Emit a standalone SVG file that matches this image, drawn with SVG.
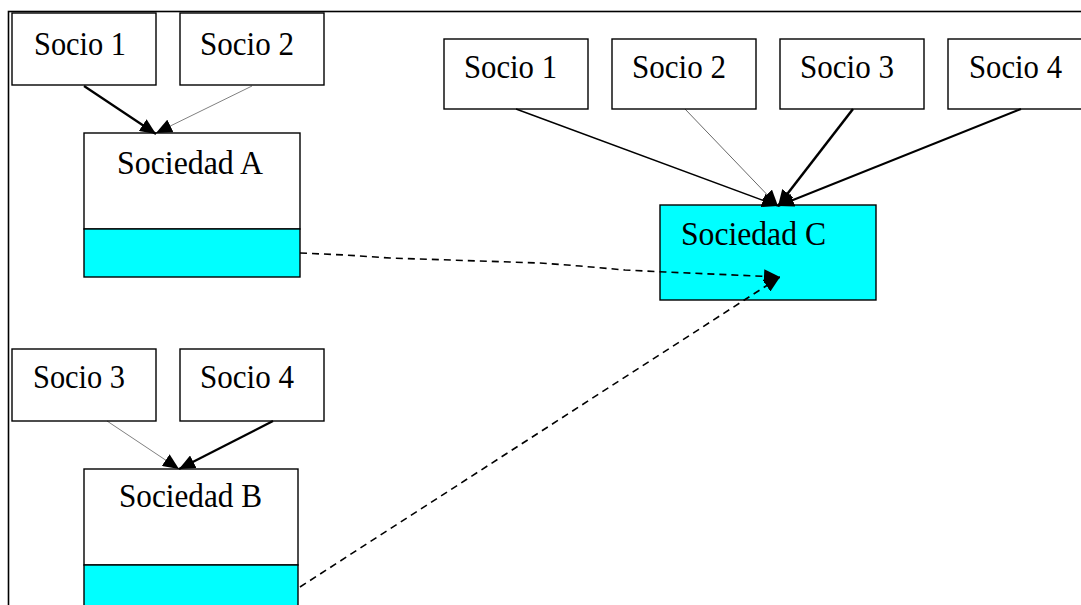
<svg xmlns="http://www.w3.org/2000/svg" width="1081" height="605" viewBox="0 0 1081 605">
<style>
  .box { fill: #ffffff; stroke: #000000; stroke-width: 1.4; }
  .cyan { fill: #00ffff; stroke: #000000; stroke-width: 1.4; }
  .lbl { font-family: "Liberation Serif", "Times New Roman", serif; font-size: 33px; fill: #000000; }
  .edge { fill: none; stroke: #000000; }
  .dash { fill: none; stroke: #000000; stroke-width: 1.6; stroke-dasharray: 7 5; }
</style>
<defs>
  <marker id="arr" markerUnits="userSpaceOnUse" markerWidth="16" markerHeight="14" refX="16" refY="7" orient="auto" viewBox="0 0 16 14">
    <path d="M0,0 L16,7 L0,14 z" fill="#000000"/>
  </marker>
</defs>
<rect x="8.5" y="11.5" width="1100" height="700" fill="none" stroke="#000000" stroke-width="1.6"/>

<g id="socio1-a"><rect class="box" x="12" y="13" width="144" height="72"/><text class="lbl" x="34" y="55" textLength="92" lengthAdjust="spacingAndGlyphs">Socio 1</text></g>
<g id="socio2-a"><rect class="box" x="180" y="13" width="144" height="72"/><text class="lbl" x="200" y="55" textLength="94" lengthAdjust="spacingAndGlyphs">Socio 2</text></g>
<g id="sociedad-a"><rect class="box" x="84" y="133" width="216" height="96"/><rect class="cyan" x="84" y="229" width="216" height="48"/><text class="lbl" x="117" y="174" textLength="146" lengthAdjust="spacingAndGlyphs">Sociedad A</text></g>

<g id="socio3-b"><rect class="box" x="12" y="349" width="144" height="72"/><text class="lbl" x="33" y="388" textLength="92" lengthAdjust="spacingAndGlyphs">Socio 3</text></g>
<g id="socio4-b"><rect class="box" x="180" y="349" width="144" height="72"/><text class="lbl" x="200" y="388" textLength="94" lengthAdjust="spacingAndGlyphs">Socio 4</text></g>
<g id="sociedad-b"><rect class="box" x="84" y="469" width="214" height="96"/><rect class="cyan" x="84" y="565" width="214" height="60"/><text class="lbl" x="119" y="507" textLength="143" lengthAdjust="spacingAndGlyphs">Sociedad B</text></g>

<g id="socio1-c"><rect class="box" x="444" y="39" width="144" height="70"/><text class="lbl" x="464" y="78" textLength="93" lengthAdjust="spacingAndGlyphs">Socio 1</text></g>
<g id="socio2-c"><rect class="box" x="612" y="39" width="144" height="70"/><text class="lbl" x="632" y="78" textLength="94" lengthAdjust="spacingAndGlyphs">Socio 2</text></g>
<g id="socio3-c"><rect class="box" x="780" y="39" width="144" height="70"/><text class="lbl" x="800" y="78" textLength="94" lengthAdjust="spacingAndGlyphs">Socio 3</text></g>
<g id="socio4-c"><rect class="box" x="948" y="39" width="144" height="70"/><text class="lbl" x="969" y="78" textLength="93" lengthAdjust="spacingAndGlyphs">Socio 4</text></g>
<g id="sociedad-c"><rect class="cyan" x="660" y="205" width="216" height="95"/><text class="lbl" x="681" y="245" textLength="145" lengthAdjust="spacingAndGlyphs">Sociedad C</text></g>

<g id="connectors">
  <line class="edge" x1="84" y1="86" x2="156" y2="134" stroke-width="2.2" marker-end="url(#arr)"/>
  <line class="edge" x1="252" y1="86" x2="156" y2="133" stroke-width="0.5" marker-end="url(#arr)"/>
  <line class="edge" x1="107" y1="421" x2="179" y2="469" stroke-width="0.5" marker-end="url(#arr)"/>
  <line class="edge" x1="273" y1="421" x2="179" y2="469" stroke-width="2.2" marker-end="url(#arr)"/>
  <line class="edge" x1="516" y1="109" x2="778" y2="206" stroke-width="1.5" marker-end="url(#arr)"/>
  <line class="edge" x1="685" y1="109" x2="778" y2="206" stroke-width="0.6" marker-end="url(#arr)"/>
  <line class="edge" x1="853" y1="109" x2="778" y2="206" stroke-width="2.5" marker-end="url(#arr)"/>
  <line class="edge" x1="1021" y1="109" x2="778" y2="206" stroke-width="2" marker-end="url(#arr)"/>
  <polyline class="dash" points="300,253 345,255 390,258 540,263 580,266 625,270 665,272 780,277" marker-end="url(#arr)"/>
  <line class="dash" x1="300" y1="587" x2="780" y2="277" marker-end="url(#arr)"/>
</g>
</svg>
